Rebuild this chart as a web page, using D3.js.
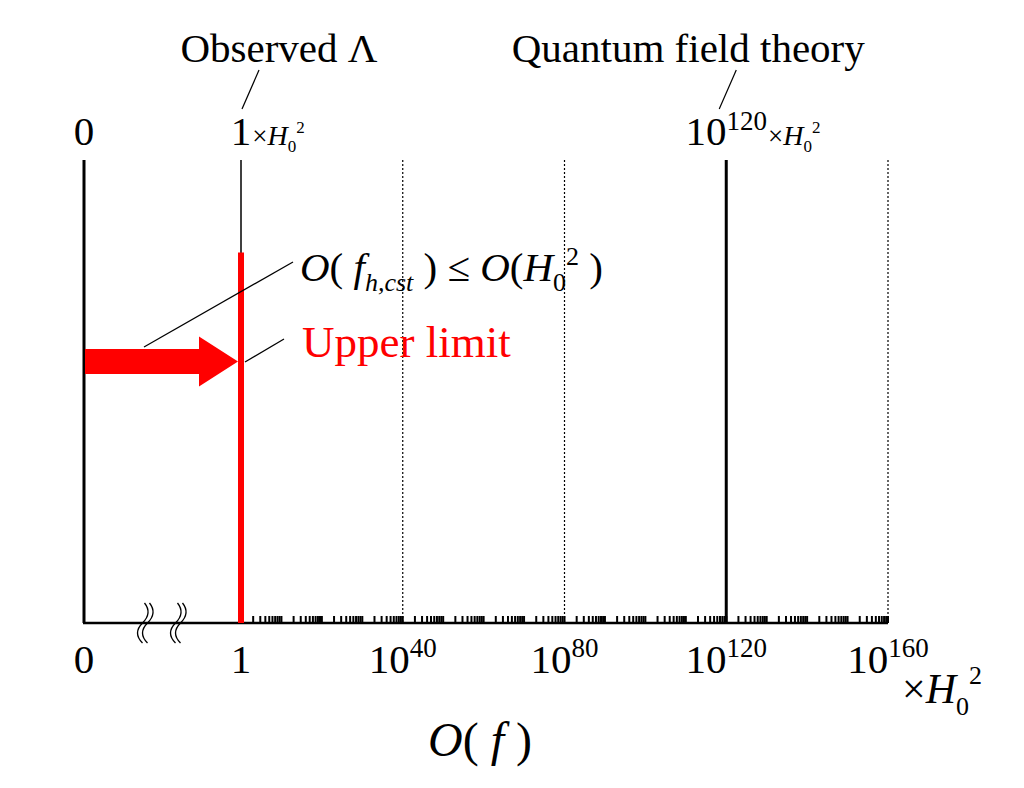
<!DOCTYPE html>
<html>
<head>
<meta charset="utf-8">
<script src="https://cdn.jsdelivr.net/npm/d3@7"></script>
<style>
  body { margin: 0; background: #fff; }
  text { font-family: "Liberation Serif", "Times New Roman", serif; fill: #000; }
</style>
</head>
<body>
<div id="svg"></div>
<script>
// exponents of 10 (in units of H0^2) on the log part of the axis
var tickExps = [0, 40, 80, 120, 160];
var dottedExps = [40, 80, 160];
// solid markers with their annotation
var markExps = [0, 120];
var markTop = ["1", "10"];
var markTopSup = ["", "120"];
var markNames = ["Observed \u039B", "Quantum field theory"];
// minor ticks inside each 10^10 step
var decadeStep = 10;
var minorMult = [2, 3, 4, 5, 6, 7, 8, 9, 10];
// upper limit (red line) and arrow level, as fraction of plot height
var limitExp = 0, limitLevel = 0.80, arrowLevel = 0.565;

var width = 1024, height = 788;
var svg = d3.select("#svg").append("svg")
    .attr("width", width)
    .attr("height", height);

var zeroX = 84, axisY = 623, topY = 160;
var x = d3.scaleLinear().domain([0, 160]).range([241, 888]);
var y = d3.scaleLinear().domain([0, 1]).range([axisY, topY]);

var g = svg.append("g");

// helper: text made of pieces {t, size, italic, dy}
function rich(sel, px, py, parts, anchor) {
  var t = sel.append("text").attr("x", px).attr("y", py).attr("text-anchor", anchor || "start");
  parts.forEach(function(p) {
    t.append("tspan")
      .attr("font-size", p.size)
      .attr("font-style", p.italic ? "italic" : "normal")
      .attr("dy", p.dy || 0)
      .text(p.t);
  });
  return t;
}

// dotted guide lines
g.selectAll(".dot").data(dottedExps).enter().append("line")
  .attr("x1", function(d) { return x(d); }).attr("x2", function(d) { return x(d); })
  .attr("y1", y(1)).attr("y2", y(0))
  .attr("stroke", "#000").attr("stroke-width", 1.2).attr("stroke-dasharray", "2,2");

// zero line
g.append("line").attr("x1", zeroX).attr("x2", zeroX).attr("y1", y(1)).attr("y2", y(0))
  .attr("stroke", "#000").attr("stroke-width", 3);

// solid marker lines
g.selectAll(".mark").data(markExps).enter().append("line")
  .attr("x1", function(d) { return x(d); }).attr("x2", function(d) { return x(d); })
  .attr("y1", y(1)).attr("y2", y(0))
  .attr("stroke", "#000").attr("stroke-width", function(d, i) { return i === 0 ? 1.5 : 3; });

// minor ticks
var minors = [];
for (var dcd = 0; dcd < 160 / decadeStep; dcd++) {
  minorMult.forEach(function(m) { minors.push(decadeStep * (dcd + Math.log10(m))); });
}
g.selectAll(".minor").data(minors).enter().append("line")
  .attr("x1", function(d) { return x(d); }).attr("x2", function(d) { return x(d); })
  .attr("y1", axisY).attr("y2", axisY - 7)
  .attr("stroke", "#000").attr("stroke-width", 2);

// axis line
g.append("line").attr("x1", zeroX - 1).attr("x2", x(160)).attr("y1", axisY).attr("y2", axisY)
  .attr("stroke", "#000").attr("stroke-width", 2.5);

// axis break marks
[142.5, 147.5, 175.5, 180.5].forEach(function(cx) {
  g.append("path")
    .attr("d", "M2,-20 Q10,-10 0,0 Q-10,10 0,20")
    .attr("transform", "translate(" + cx + "," + axisY + ")")
    .attr("fill", "none").attr("stroke", "#000").attr("stroke-width", 1.3);
});

// red upper limit line
g.append("line").attr("x1", x(limitExp)).attr("x2", x(limitExp))
  .attr("y1", y(limitLevel)).attr("y2", y(0))
  .attr("stroke", "#ff0000").attr("stroke-width", 6);

// red arrow from 0 to the limit
var ay = y(arrowLevel), tipX = x(limitExp) - 3, headX = tipX - 39;
var arrowPts = [[zeroX + 1, ay - 12.5], [headX, ay - 12.5], [headX, ay - 25], [tipX, ay],
                [headX, ay + 25], [headX, ay + 12.5], [zeroX + 1, ay + 12.5]];
g.append("path").attr("d", d3.line()(arrowPts) + "Z").attr("fill", "#ff0000");

// leader lines for the limit annotations
g.append("line").attr("x1", 144).attr("y1", 347).attr("x2", 293).attr("y2", 262)
  .attr("stroke", "#000").attr("stroke-width", 1.3);
g.append("line").attr("x1", x(limitExp) + 4).attr("y1", 362).attr("x2", 284).attr("y2", 339)
  .attr("stroke", "#000").attr("stroke-width", 1.3);

// formula and label
rich(g, 300, 281, [
  {t: "O", size: 41, italic: true}, {t: "(", size: 41},
  {t: " f", size: 41, italic: true},
  {t: "h,cst", size: 26, italic: true, dy: 10},
  {t: " )", size: 41, dy: -10}, {t: " \u2264 ", size: 41},
  {t: "O", size: 41, italic: true}, {t: "(", size: 41},
  {t: "H", size: 41, italic: true},
  {t: "0", size: 26, dy: 10},
  {t: "2", size: 26, dy: -26},
  {t: " )", size: 41, dy: 16}
]);
g.append("text").attr("x", 302).attr("y", 357).attr("font-size", 45)
  .attr("fill", "#ff0000").style("fill", "#ff0000").text("Upper limit");

// top labels: zero
g.append("text").attr("x", zeroX).attr("y", 145).attr("font-size", 41)
  .attr("text-anchor", "middle").text("0");

// top labels on the marks, with names and leader lines
markExps.forEach(function(e, i) {
  var mx = x(e);
  var parts = [{t: markTop[i], size: 41}];
  if (markTopSup[i]) parts.push({t: markTopSup[i], size: 27, dy: -15});
  var lab = rich(g, mx, 145, parts, "middle");
  var w = lab.node().getComputedTextLength();
  rich(g, mx + w / 2 + 1, 145, [
    {t: "\u00D7", size: 27},
    {t: "H", size: 28, italic: true},
    {t: "0", size: 17, dy: 7},
    {t: "2", size: 17, dy: -19}
  ]);
  var nx = i === 0 ? mx + 38 : mx - 38;
  g.append("text").attr("x", nx).attr("y", 62).attr("font-size", 41)
    .attr("text-anchor", "middle").text(markNames[i]);
  var lx = i === 0 ? mx + 1 : mx - 7;
  g.append("line").attr("x1", lx + 17).attr("y1", 70).attr("x2", lx).attr("y2", 109)
    .attr("stroke", "#000").attr("stroke-width", 1.2);
});

// bottom tick labels
g.append("text").attr("x", zeroX).attr("y", 673).attr("font-size", 41)
  .attr("text-anchor", "middle").text("0");
tickExps.forEach(function(e) {
  var parts = e === 0 ? [{t: "1", size: 41}] : [{t: "10", size: 41}, {t: String(e), size: 27, dy: -16}];
  rich(g, x(e), 673, parts, "middle");
});

// unit label
rich(g, 902, 703, [
  {t: "\u00D7", size: 42},
  {t: "H", size: 42, italic: true},
  {t: "0", size: 26, dy: 12},
  {t: "2", size: 26, dy: -31}
]);

// axis title
rich(g, 480, 756, [
  {t: "O", size: 48, italic: true}, {t: "(", size: 48},
  {t: " f", size: 48, italic: true}, {t: " )", size: 48}
], "middle");
</script>
</body>
</html>
